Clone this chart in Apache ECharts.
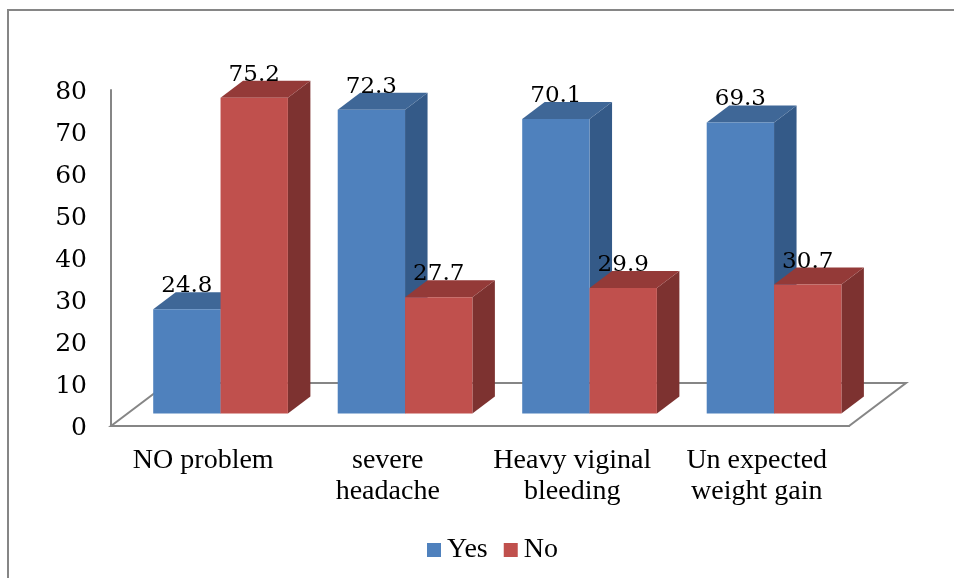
<!DOCTYPE html>
<html>
<head>
<meta charset="utf-8">
<style>html,body{margin:0;padding:0;background:#fff}#c{width:954px;height:578px}</style>
<script src="https://cdn.jsdelivr.net/npm/echarts@6/dist/echarts.min.js"></script>
</head>
<body>
<div id="c"></div>
<script>
const categories = ['NO problem', 'severe\nheadache', 'Heavy viginal\nbleeding', 'Un expected\nweight gain'];
const yesValues = [24.8, 72.3, 70.1, 69.3];
const noValues = [75.2, 27.7, 29.9, 30.7];
const yTicks = { min: 0, max: 80, interval: 10 };

const TEXT_FONT = '"Liberation Serif", serif';
const NUM_FONT = '"DejaVu Serif", serif';
const GREY = '#868686';

// Oblique projection used for the pseudo-3D look
const FLOOR_DX = 57, FLOOR_DY = -43;
const BAR_DX = 22.5, BAR_DY = -17;
const FRONT_DX = 17.3, FRONT_DY = -12.5;

function prism(colors, slot) {
  return function (params, api) {
    const i = api.value(0), v = api.value(1);
    const top = api.coord([i, v]);
    const base = api.coord([i, 0]);
    const w = api.size([1, 0])[0] * 0.365;
    const x0 = top[0] + FRONT_DX + (slot === 0 ? -w : 0);
    const x1 = x0 + w;
    const yT = top[1] + FRONT_DY;
    const yB = base[1] + FRONT_DY;
    return {
      type: 'group',
      children: [
        { type: 'polygon', shape: { points: [[x1, yT], [x1 + BAR_DX, yT + BAR_DY], [x1 + BAR_DX, yB + BAR_DY], [x1, yB]] }, style: { fill: colors.side } },
        { type: 'polygon', shape: { points: [[x0, yT], [x0 + BAR_DX, yT + BAR_DY], [x1 + BAR_DX, yT + BAR_DY], [x1, yT]] }, style: { fill: colors.top } },
        { type: 'rect', shape: { x: x0, y: yT, width: w, height: yB - yT }, style: { fill: colors.front } },
        { type: 'text', z2: 50, style: { text: v.toFixed(1), x: (x0 + x1) / 2, y: yT - 23, align: 'center', verticalAlign: 'middle', font: '23px ' + NUM_FONT, fill: '#000' } }
      ]
    };
  };
}

function floor(params) {
  const g = params.coordSys;
  const xL = g.x, xR = g.x + g.width, yB = g.y + g.height;
  return {
    type: 'polygon',
    shape: { points: [[xL, yB], [xL + FLOOR_DX, yB + FLOOR_DY], [xR + FLOOR_DX, yB + FLOOR_DY], [xR, yB]] },
    style: { fill: '#fff', stroke: GREY, lineWidth: 2 }
  };
}

const chart = echarts.init(document.getElementById('c'), null, { renderer: 'canvas' });
chart.setOption({
  animation: false,
  backgroundColor: '#fff',
  graphic: [
    { type: 'polyline', silent: true, shape: { points: [[8, 578], [8, 10], [954, 10]] }, style: { stroke: GREY, lineWidth: 2, fill: null } }
  ],
  grid: { left: 111, right: 105, top: 90, bottom: 152 },
  legend: {
    data: ['Yes', 'No'],
    left: 422, top: 531,
    icon: 'rect', itemWidth: 14, itemHeight: 14, itemGap: 16,
    textStyle: { fontFamily: TEXT_FONT, fontSize: 28, color: '#000', padding: [0, 0, 0, 1] }
  },
  xAxis: {
    type: 'category',
    data: categories,
    axisTick: { show: false },
    axisLine: { show: true, lineStyle: { color: GREY, width: 2 } },
    axisLabel: { interval: 0, margin: 19, fontFamily: TEXT_FONT, fontSize: 28, lineHeight: 31, color: '#000' }
  },
  yAxis: {
    type: 'value',
    min: yTicks.min, max: yTicks.max, interval: yTicks.interval,
    splitLine: { show: false },
    axisTick: { show: false },
    axisLine: { show: true, lineStyle: { color: GREY, width: 2 } },
    axisLabel: {
      margin: 24,
      color: '#000',
      formatter: '{n|{value}}',
      rich: { n: { fontFamily: NUM_FONT, fontSize: 25, color: '#000', padding: [4, 0, 0, 0] } }
    }
  },
  series: [
    { type: 'custom', name: 'floor', silent: true, z: 1, renderItem: floor, data: [[0, 0]], encode: { x: 0, y: 1 } },
    { type: 'custom', name: 'Yes', z: 2, itemStyle: { color: '#4F81BD' },
      renderItem: prism({ front: '#4F81BD', top: '#3F6797', side: '#345A88' }, 0),
      data: yesValues.map((v, i) => [i, v]), encode: { x: 0, y: 1 } },
    { type: 'custom', name: 'No', z: 3, itemStyle: { color: '#C0504D' },
      renderItem: prism({ front: '#C0504D', top: '#943A38', side: '#7D3230' }, 1),
      data: noValues.map((v, i) => [i, v]), encode: { x: 0, y: 1 } }
  ]
});
</script>
</body>
</html>
